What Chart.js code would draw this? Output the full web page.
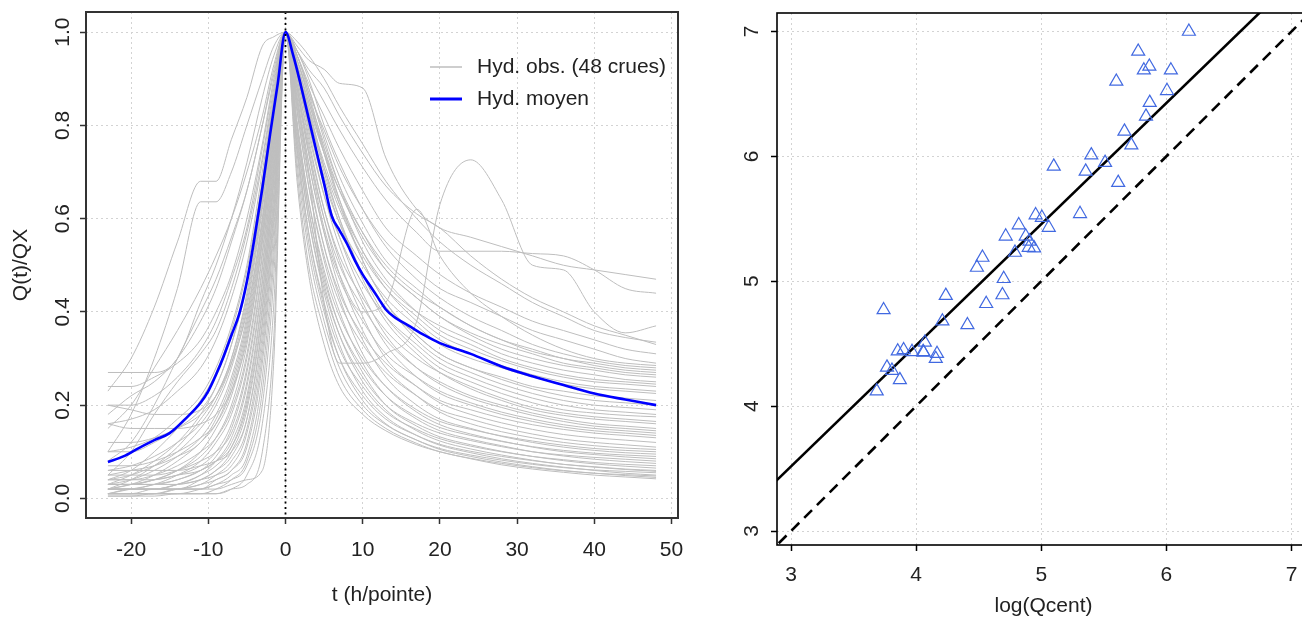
<!DOCTYPE html>
<html>
<head>
<meta charset="utf-8">
<script src="https://cdn.jsdelivr.net/npm/chart.js@4.4.1/dist/chart.umd.min.js"></script>
<style>
  html, body { margin: 0; padding: 0; background: #fff; width: 1302px; height: 619px; overflow: hidden; }
  #hydChart { position: absolute; left: 0; top: 0; }
  #qcentChart { position: absolute; left: 700px; top: 0; }
</style>
</head>
<body>
<canvas id="hydChart" width="700" height="619"></canvas>
<canvas id="qcentChart" width="640" height="619"></canvas>
<script>
// time grid shared by the 48 observed hydrographs (h from peak)
const hydT = [-23, -20, -17, -14, -11, -9, -7, -5, -3, -1.5, 0, 1.5, 3, 5, 7, 10, 13, 17, 20, 24, 28, 32, 36, 40, 44, 48];

// rising limb, t = -23 .. -1.5
const riseQ = [
  [0.23, 0.30, 0.41, 0.55, 0.68, 0.68, 0.77, 0.86, 0.97, 0.99],
  [0.10, 0.18, 0.30, 0.45, 0.636, 0.636, 0.70, 0.80, 0.90, 0.97],
  [0.27, 0.27, 0.27, 0.30, 0.42, 0.50, 0.60, 0.72, 0.86, 0.95],
  [0.15, 0.20, 0.28, 0.36, 0.45, 0.52, 0.60, 0.70, 0.82, 0.93],
  [0.18, 0.22, 0.25, 0.30, 0.38, 0.45, 0.55, 0.66, 0.80, 0.92],
  [0.08, 0.12, 0.20, 0.30, 0.40, 0.47, 0.56, 0.66, 0.80, 0.91],
  [0.24, 0.24, 0.26, 0.29, 0.34, 0.40, 0.48, 0.60, 0.76, 0.90],
  [0.20, 0.20, 0.22, 0.26, 0.32, 0.38, 0.47, 0.58, 0.75, 0.89],
  [0.05, 0.10, 0.18, 0.25, 0.31, 0.36, 0.45, 0.57, 0.73, 0.88],
  [0.16, 0.17, 0.19, 0.23, 0.28, 0.34, 0.43, 0.55, 0.72, 0.87],
  [0.10, 0.11, 0.13, 0.17, 0.22, 0.28, 0.37, 0.50, 0.70, 0.86],
  [0.04, 0.06, 0.10, 0.15, 0.21, 0.27, 0.36, 0.49, 0.68, 0.85],
  [0.10, 0.10, 0.12, 0.15, 0.19, 0.24, 0.33, 0.47, 0.68, 0.86],
  [0.03, 0.05, 0.08, 0.12, 0.18, 0.24, 0.33, 0.46, 0.66, 0.84],
  [0.12, 0.12, 0.13, 0.15, 0.18, 0.22, 0.30, 0.44, 0.65, 0.84],
  [0.02, 0.04, 0.07, 0.11, 0.17, 0.22, 0.30, 0.43, 0.64, 0.83],
  [0.06, 0.07, 0.09, 0.12, 0.16, 0.21, 0.29, 0.42, 0.63, 0.83],
  [0.04, 0.05, 0.07, 0.10, 0.15, 0.20, 0.28, 0.41, 0.62, 0.82],
  [0.20, 0.19, 0.18, 0.18, 0.19, 0.22, 0.29, 0.40, 0.60, 0.81],
  [0.03, 0.04, 0.06, 0.09, 0.13, 0.18, 0.26, 0.39, 0.60, 0.81],
  [0.05, 0.06, 0.07, 0.09, 0.12, 0.17, 0.25, 0.38, 0.59, 0.80],
  [0.02, 0.03, 0.05, 0.08, 0.12, 0.16, 0.24, 0.37, 0.58, 0.80],
  [0.07, 0.07, 0.08, 0.10, 0.13, 0.16, 0.23, 0.36, 0.57, 0.79],
  [0.03, 0.03, 0.04, 0.06, 0.10, 0.15, 0.22, 0.35, 0.56, 0.78],
  [0.16, 0.15, 0.15, 0.15, 0.16, 0.18, 0.23, 0.34, 0.55, 0.78],
  [0.02, 0.03, 0.04, 0.06, 0.09, 0.13, 0.20, 0.33, 0.55, 0.77],
  [0.04, 0.04, 0.05, 0.07, 0.10, 0.13, 0.19, 0.31, 0.53, 0.76],
  [0.01, 0.02, 0.03, 0.05, 0.08, 0.12, 0.18, 0.30, 0.52, 0.76],
  [0.03, 0.03, 0.04, 0.05, 0.07, 0.10, 0.16, 0.28, 0.50, 0.75],
  [0.02, 0.02, 0.03, 0.04, 0.06, 0.09, 0.15, 0.27, 0.49, 0.74],
  [0.05, 0.05, 0.05, 0.06, 0.08, 0.10, 0.14, 0.25, 0.47, 0.73],
  [0.01, 0.02, 0.02, 0.03, 0.05, 0.08, 0.13, 0.24, 0.46, 0.72],
  [0.03, 0.03, 0.03, 0.04, 0.06, 0.08, 0.12, 0.22, 0.44, 0.71],
  [0.02, 0.02, 0.02, 0.03, 0.05, 0.07, 0.11, 0.21, 0.43, 0.70],
  [0.04, 0.04, 0.04, 0.05, 0.06, 0.08, 0.11, 0.20, 0.41, 0.69],
  [0.01, 0.01, 0.02, 0.02, 0.04, 0.06, 0.10, 0.19, 0.40, 0.68],
  [0.02, 0.02, 0.02, 0.03, 0.04, 0.06, 0.09, 0.17, 0.38, 0.66],
  [0.06, 0.06, 0.06, 0.06, 0.07, 0.08, 0.10, 0.17, 0.37, 0.65],
  [0.01, 0.01, 0.01, 0.02, 0.03, 0.05, 0.08, 0.15, 0.35, 0.63],
  [0.03, 0.03, 0.03, 0.03, 0.04, 0.05, 0.07, 0.14, 0.33, 0.62],
  [0.01, 0.01, 0.01, 0.02, 0.02, 0.04, 0.06, 0.12, 0.31, 0.60],
  [0.02, 0.02, 0.02, 0.02, 0.03, 0.04, 0.06, 0.11, 0.29, 0.58],
  [0.01, 0.01, 0.01, 0.01, 0.02, 0.03, 0.05, 0.09, 0.26, 0.55],
  [0.005, 0.005, 0.01, 0.01, 0.01, 0.02, 0.04, 0.08, 0.23, 0.52],
  [0.02, 0.02, 0.02, 0.02, 0.02, 0.03, 0.04, 0.07, 0.20, 0.48],
  [0.01, 0.01, 0.01, 0.01, 0.01, 0.01, 0.02, 0.05, 0.16, 0.42],
  [0.005, 0.005, 0.005, 0.01, 0.01, 0.01, 0.02, 0.03, 0.10, 0.35],
  [0.02, 0.02, 0.02, 0.02, 0.02, 0.02, 0.03, 0.04, 0.06, 0.30]
];

// value at the peak (t = 0)
const peakQ = 1;

// falling limb, t = 1.5 .. 48
const fallQ = [
  [0.97, 0.94, 0.92, 0.89, 0.88, 0.73, 0.62, 0.58, 0.56, 0.54, 0.52, 0.50, 0.49, 0.48, 0.47],
  [0.96, 0.91, 0.85, 0.79, 0.71, 0.64, 0.57, 0.53, 0.53, 0.53, 0.525, 0.52, 0.49, 0.45, 0.44],
  [0.85, 0.70, 0.42, 0.29, 0.29, 0.31, 0.38, 0.63, 0.726, 0.64, 0.50, 0.49, 0.40, 0.355, 0.37],
  [0.98, 0.95, 0.90, 0.84, 0.76, 0.68, 0.60, 0.55, 0.50, 0.46, 0.42, 0.39, 0.36, 0.345, 0.335],
  [0.96, 0.92, 0.88, 0.82, 0.74, 0.67, 0.61, 0.58, 0.52, 0.47, 0.43, 0.40, 0.37, 0.35, 0.33],
  [0.95, 0.89, 0.82, 0.75, 0.66, 0.58, 0.52, 0.48, 0.44, 0.41, 0.38, 0.36, 0.34, 0.32, 0.31],
  [0.94, 0.87, 0.79, 0.71, 0.62, 0.55, 0.49, 0.45, 0.42, 0.39, 0.36, 0.34, 0.32, 0.30, 0.29],
  [0.88, 0.74, 0.58, 0.48, 0.40, 0.42, 0.62, 0.52, 0.44, 0.39, 0.35, 0.32, 0.30, 0.29, 0.285],
  [0.96, 0.90, 0.80, 0.72, 0.62, 0.54, 0.47, 0.43, 0.39, 0.36, 0.33, 0.31, 0.295, 0.285, 0.28],
  [0.92, 0.84, 0.74, 0.66, 0.57, 0.50, 0.44, 0.41, 0.37, 0.34, 0.32, 0.30, 0.29, 0.28, 0.275],
  [0.95, 0.88, 0.78, 0.69, 0.59, 0.51, 0.45, 0.41, 0.37, 0.34, 0.315, 0.30, 0.285, 0.275, 0.27],
  [0.93, 0.85, 0.75, 0.66, 0.56, 0.49, 0.43, 0.39, 0.355, 0.33, 0.31, 0.29, 0.28, 0.27, 0.265],
  [0.94, 0.86, 0.76, 0.67, 0.57, 0.49, 0.43, 0.39, 0.35, 0.32, 0.30, 0.285, 0.275, 0.265, 0.26],
  [0.92, 0.83, 0.72, 0.63, 0.53, 0.46, 0.40, 0.37, 0.34, 0.31, 0.29, 0.275, 0.265, 0.255, 0.25],
  [0.95, 0.88, 0.77, 0.67, 0.55, 0.47, 0.40, 0.36, 0.33, 0.30, 0.28, 0.265, 0.255, 0.25, 0.245],
  [0.91, 0.82, 0.71, 0.62, 0.52, 0.45, 0.39, 0.35, 0.32, 0.295, 0.275, 0.26, 0.25, 0.245, 0.24],
  [0.93, 0.85, 0.74, 0.64, 0.53, 0.45, 0.38, 0.34, 0.31, 0.285, 0.265, 0.25, 0.24, 0.235, 0.23],
  [0.90, 0.80, 0.68, 0.59, 0.50, 0.43, 0.37, 0.33, 0.30, 0.28, 0.26, 0.245, 0.235, 0.23, 0.225],
  [0.94, 0.86, 0.74, 0.63, 0.51, 0.42, 0.35, 0.31, 0.28, 0.26, 0.24, 0.23, 0.22, 0.215, 0.21],
  [0.91, 0.81, 0.69, 0.59, 0.48, 0.41, 0.35, 0.31, 0.28, 0.255, 0.235, 0.22, 0.21, 0.205, 0.20],
  [0.95, 0.87, 0.75, 0.64, 0.51, 0.42, 0.34, 0.30, 0.27, 0.245, 0.225, 0.21, 0.20, 0.195, 0.19],
  [0.89, 0.78, 0.65, 0.56, 0.46, 0.39, 0.33, 0.29, 0.26, 0.235, 0.215, 0.20, 0.19, 0.185, 0.18],
  [0.92, 0.83, 0.70, 0.60, 0.48, 0.39, 0.32, 0.28, 0.25, 0.225, 0.205, 0.19, 0.183, 0.178, 0.175],
  [0.88, 0.76, 0.62, 0.52, 0.43, 0.36, 0.30, 0.27, 0.24, 0.215, 0.195, 0.183, 0.175, 0.17, 0.165],
  [0.93, 0.84, 0.71, 0.60, 0.47, 0.38, 0.31, 0.27, 0.235, 0.21, 0.19, 0.178, 0.17, 0.165, 0.16],
  [0.87, 0.74, 0.60, 0.50, 0.41, 0.34, 0.28, 0.25, 0.22, 0.20, 0.183, 0.17, 0.16, 0.155, 0.15],
  [0.91, 0.80, 0.67, 0.56, 0.44, 0.35, 0.28, 0.245, 0.215, 0.195, 0.178, 0.165, 0.155, 0.15, 0.145],
  [0.86, 0.72, 0.57, 0.47, 0.38, 0.31, 0.26, 0.23, 0.205, 0.185, 0.17, 0.158, 0.15, 0.145, 0.14],
  [0.90, 0.79, 0.65, 0.54, 0.42, 0.33, 0.26, 0.225, 0.20, 0.18, 0.165, 0.153, 0.145, 0.14, 0.135],
  [0.84, 0.69, 0.54, 0.44, 0.35, 0.29, 0.24, 0.21, 0.19, 0.172, 0.158, 0.148, 0.14, 0.135, 0.13],
  [0.89, 0.77, 0.62, 0.51, 0.39, 0.30, 0.24, 0.205, 0.18, 0.162, 0.148, 0.137, 0.13, 0.125, 0.12],
  [0.83, 0.67, 0.52, 0.42, 0.33, 0.27, 0.22, 0.19, 0.17, 0.152, 0.138, 0.127, 0.12, 0.115, 0.11],
  [0.88, 0.75, 0.60, 0.48, 0.36, 0.28, 0.22, 0.185, 0.16, 0.143, 0.13, 0.12, 0.113, 0.108, 0.105],
  [0.80, 0.64, 0.49, 0.39, 0.30, 0.24, 0.19, 0.165, 0.148, 0.134, 0.123, 0.114, 0.107, 0.103, 0.10],
  [0.86, 0.72, 0.57, 0.45, 0.34, 0.26, 0.20, 0.17, 0.15, 0.133, 0.12, 0.11, 0.103, 0.098, 0.095],
  [0.79, 0.62, 0.47, 0.37, 0.28, 0.22, 0.175, 0.152, 0.135, 0.122, 0.111, 0.103, 0.097, 0.093, 0.09],
  [0.85, 0.70, 0.54, 0.43, 0.31, 0.24, 0.185, 0.158, 0.138, 0.123, 0.11, 0.10, 0.094, 0.089, 0.085],
  [0.77, 0.60, 0.45, 0.35, 0.26, 0.20, 0.16, 0.14, 0.124, 0.111, 0.10, 0.093, 0.088, 0.084, 0.08],
  [0.83, 0.67, 0.51, 0.40, 0.29, 0.22, 0.17, 0.145, 0.127, 0.113, 0.10, 0.091, 0.084, 0.079, 0.075],
  [0.75, 0.57, 0.42, 0.32, 0.24, 0.185, 0.148, 0.128, 0.112, 0.10, 0.09, 0.083, 0.077, 0.073, 0.07],
  [0.81, 0.64, 0.48, 0.37, 0.27, 0.20, 0.155, 0.132, 0.115, 0.101, 0.09, 0.081, 0.074, 0.069, 0.065],
  [0.74, 0.55, 0.40, 0.30, 0.22, 0.17, 0.135, 0.116, 0.101, 0.09, 0.081, 0.073, 0.068, 0.063, 0.06],
  [0.80, 0.62, 0.46, 0.35, 0.25, 0.19, 0.145, 0.123, 0.106, 0.093, 0.082, 0.073, 0.067, 0.062, 0.058],
  [0.72, 0.53, 0.38, 0.28, 0.20, 0.158, 0.125, 0.107, 0.093, 0.082, 0.073, 0.066, 0.061, 0.058, 0.055],
  [0.78, 0.60, 0.44, 0.33, 0.23, 0.175, 0.135, 0.114, 0.098, 0.085, 0.075, 0.067, 0.06, 0.054, 0.05],
  [0.70, 0.50, 0.36, 0.26, 0.19, 0.15, 0.118, 0.10, 0.086, 0.075, 0.066, 0.059, 0.054, 0.051, 0.048],
  [0.76, 0.57, 0.41, 0.30, 0.21, 0.16, 0.125, 0.105, 0.09, 0.078, 0.068, 0.06, 0.054, 0.049, 0.045],
  [0.68, 0.48, 0.33, 0.24, 0.18, 0.145, 0.115, 0.10, 0.085, 0.072, 0.063, 0.056, 0.05, 0.046, 0.042]
];

// mean hydrograph
const meanT = [-23, -21, -19, -17, -15, -13, -11, -10, -9, -8, -7, -6, -5, -4, -3, -2, -1, 0, 1, 2, 3, 4, 5, 6, 7, 8, 9, 10, 11, 12, 13, 14, 16, 18, 20, 24, 28, 32, 36, 40, 44, 48];
const meanQ = [0.078, 0.09, 0.108, 0.125, 0.14, 0.17, 0.205, 0.23, 0.265, 0.305, 0.35, 0.395, 0.465, 0.56, 0.665, 0.78, 0.89, 1.0, 0.95, 0.885, 0.815, 0.745, 0.675, 0.605, 0.575, 0.545, 0.51, 0.48, 0.455, 0.43, 0.405, 0.39, 0.37, 0.35, 0.333, 0.31, 0.283, 0.262, 0.243, 0.225, 0.212, 0.2];

const hydXTicks = [-20, -10, 0, 10, 20, 30, 40, 50];
const hydYTicks = [0, 0.2, 0.4, 0.6, 0.8, 1.0];
const hydYLabels = ['0.0', '0.2', '0.4', '0.6', '0.8', '1.0'];
const peakTime = 0;

// right panel: one triangle per flood
const qcentLog = [6.18, 5.775, 5.82, 5.864, 6.036, 5.60, 6.005, 5.867, 5.837, 5.665, 5.72, 5.40, 5.51, 5.10, 5.355, 5.615,
  5.31, 4.955, 5.005, 5.06, 4.82, 4.716, 4.876, 4.906, 4.90, 4.943, 4.79, 4.53, 4.486, 4.70, 4.69, 4.56,
  4.237, 3.74, 4.21, 4.41, 4.07, 3.90, 3.853, 3.967, 4.056, 4.167, 4.157, 3.767, 3.807, 3.87, 3.685, 4.06];
const qestLog = [7.0, 6.84, 6.69, 6.72, 6.69, 6.60, 6.525, 6.43, 6.32, 6.20, 6.09, 6.01, 5.95, 5.92, 5.88, 5.79,
  5.54, 5.53, 5.51, 5.43, 5.45, 5.36, 5.36, 5.32, 5.27, 5.265, 5.23, 5.19, 5.11, 5.02, 4.89, 4.82,
  4.885, 4.77, 4.68, 4.65, 4.51, 4.45, 4.44, 4.435, 4.435, 4.42, 4.38, 4.31, 4.285, 4.21, 4.12, 4.43];
const fitCoef = [0.607, 0.97];   // intercept, slope
const lineSpan = [2.8, 7.3];
const qcTicks = [3, 4, 5, 6, 7];

Chart.defaults.font.family = '"Liberation Sans", Arial, sans-serif';
Chart.defaults.font.size = 21;
Chart.defaults.color = '#222';
Chart.defaults.animation = false;

const gridOpts = (tickColor) => ({
  color: '#d3d3d3', lineWidth: 1, drawTicks: true, tickLength: 6, tickColor, tickWidth: 1.5
});

function drawYLabels(chart, ticks, labels, cx) {
  const { ctx } = chart;
  const ys = chart.scales.y;
  ctx.save();
  ctx.fillStyle = '#222';
  ctx.font = '21px "Liberation Sans", Arial, sans-serif';
  ctx.textAlign = 'center';
  ctx.textBaseline = 'middle';
  ticks.forEach((v, i) => {
    ctx.save();
    ctx.translate(cx, ys.getPixelForValue(v));
    ctx.rotate(-Math.PI / 2);
    ctx.fillText(labels[i], 0, 0);
    ctx.restore();
  });
  ctx.restore();
}

function drawBox(chart, color, width) {
  const { ctx, chartArea: a } = chart;
  ctx.save();
  ctx.strokeStyle = color;
  ctx.lineWidth = width;
  ctx.strokeRect(a.left, a.top, a.right - a.left, a.bottom - a.top);
  ctx.restore();
}

// left: hydrographs
const hydDatasets = [{
  label: 'Hyd. moyen',
  data: meanT.map((t, i) => ({ x: t, y: meanQ[i] })),
  borderColor: '#0000ff', borderWidth: 2.6, pointRadius: 0, cubicInterpolationMode: 'monotone'
}];
riseQ.forEach((r, k) => {
  const q = r.concat([peakQ], fallQ[k]);
  hydDatasets.push({
    label: 'Hyd. obs. (48 crues)',
    data: hydT.map((t, i) => ({ x: t, y: q[i] })),
    borderColor: '#bebebe', borderWidth: 1, pointRadius: 0, cubicInterpolationMode: 'monotone'
  });
});

new Chart(document.getElementById('hydChart'), {
  type: 'line',
  data: { datasets: hydDatasets },
  plugins: [{
    id: 'hydFrame',
    afterDatasetsDraw(chart) {
      const { ctx, chartArea: a, scales: { x } } = chart;
      const px = x.getPixelForValue(peakTime);
      ctx.save();
      ctx.strokeStyle = '#000';
      ctx.lineWidth = 1.8;
      ctx.setLineDash([2, 3.5]);
      ctx.beginPath();
      ctx.moveTo(px, a.top);
      ctx.lineTo(px, a.bottom);
      ctx.stroke();
      ctx.restore();
    },
    afterDraw(chart) {
      drawBox(chart, '#333', 2);
      drawYLabels(chart, hydYTicks, hydYLabels, 63);
      const { ctx } = chart;
      ctx.save();
      ctx.lineWidth = 1.5;
      ctx.strokeStyle = '#bebebe';
      ctx.beginPath(); ctx.moveTo(430, 67); ctx.lineTo(462, 67); ctx.stroke();
      ctx.lineWidth = 3;
      ctx.strokeStyle = '#0000ff';
      ctx.beginPath(); ctx.moveTo(430, 99); ctx.lineTo(462, 99); ctx.stroke();
      ctx.fillStyle = '#222';
      ctx.font = '21px "Liberation Sans", Arial, sans-serif';
      ctx.textBaseline = 'middle';
      ctx.fillText('Hyd. obs. (48 crues)', 477, 67);
      ctx.fillText('Hyd. moyen', 477, 99);
      ctx.restore();
    }
  }],
  options: {
    responsive: false,
    devicePixelRatio: 1,
    layout: { padding: { left: 0, top: 12, right: 22, bottom: 0 } },
    plugins: { legend: { display: false }, tooltip: { enabled: false } },
    scales: {
      x: {
        type: 'linear', min: -25.84, max: 50.84,
        afterBuildTicks: s => { s.ticks = hydXTicks.map(v => ({ value: v })); },
        afterFit: s => { s.height = 101; },
        grid: gridOpts('#333'),
        border: { display: false, dash: [2, 3] },
        ticks: { padding: 14, maxRotation: 0, callback: v => String(v) },
        title: { display: true, text: 't (h/pointe)', padding: { top: 0, bottom: 11 } }
      },
      y: {
        type: 'linear', min: -0.042, max: 1.043,
        afterBuildTicks: s => { s.ticks = hydYTicks.map(v => ({ value: v })); },
        afterFit: s => { s.width = 86; },
        grid: gridOpts('#333'),
        border: { display: false, dash: [2, 3] },
        ticks: { display: false },
        title: { display: true, text: 'Q(t)/QX', padding: { top: 9, bottom: 0 } }
      }
    }
  }
});

// right: log(Qcent) scatter
new Chart(document.getElementById('qcentChart'), {
  type: 'scatter',
  data: {
    datasets: [
      {
        data: qcentLog.map((x, i) => ({ x, y: qestLog[i] })),
        pointStyle: 'triangle', pointRadius: 7.5, borderWidth: 1.2,
        borderColor: '#4169e1', backgroundColor: 'rgba(0,0,0,0)'
      },
      {
        type: 'line',
        data: lineSpan.map(x => ({ x, y: fitCoef[0] + fitCoef[1] * x })),
        borderColor: '#000', borderWidth: 2.6, pointRadius: 0
      },
      {
        type: 'line',
        data: lineSpan.map(x => ({ x, y: x })),
        borderColor: '#000', borderWidth: 2.6, borderDash: [11, 7], pointRadius: 0
      }
    ]
  },
  plugins: [{
    id: 'qcFrame',
    afterDraw(chart) {
      drawBox(chart, '#000', 1.6);
      drawYLabels(chart, qcTicks, qcTicks.map(String), 52);
    }
  }],
  options: {
    responsive: false,
    devicePixelRatio: 1,
    layout: { padding: { left: 0, top: 13, right: 30, bottom: 0 } },
    plugins: { legend: { display: false }, tooltip: { enabled: false } },
    scales: {
      x: {
        type: 'linear', min: 2.888, max: 7.148,
        afterBuildTicks: s => { s.ticks = qcTicks.map(v => ({ value: v })); },
        afterFit: s => { s.height = 74; },
        grid: gridOpts('#000'),
        border: { display: false, dash: [2, 3] },
        ticks: { padding: 12, maxRotation: 0, callback: v => String(v) },
        title: { display: true, text: 'log(Qcent)', padding: { top: 0, bottom: 0 } }
      },
      y: {
        type: 'linear', min: 2.888, max: 7.148,
        afterBuildTicks: s => { s.ticks = qcTicks.map(v => ({ value: v })); },
        afterFit: s => { s.width = 77; },
        grid: gridOpts('#000'),
        border: { display: false, dash: [2, 3] },
        ticks: { display: false }
      }
    }
  }
});
</script>
</body>
</html>
